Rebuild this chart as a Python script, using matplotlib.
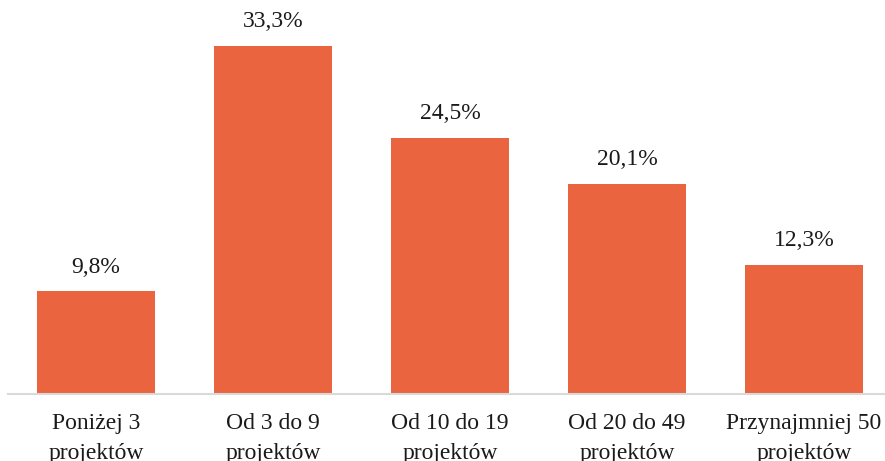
import matplotlib.pyplot as plt
import numpy as np

categories = ['Poniżej 3\nprojektów', 'Od 3 do 9\nprojektów', 'Od 10 do 19\nprojektów',
              'Od 20 do 49\nprojektów', 'Przynajmniej 50\nprojektów']
values = [9.8, 33.3, 24.5, 20.1, 12.3]
labels = ['9,8%', '33,3%', '24,5%', '20,1%', '12,3%']

plt.rcParams['font.family'] = ['Liberation Serif', 'DejaVu Serif']

fig = plt.figure(figsize=(8.85, 4.61), dpi=100)
ax = fig.add_axes([7.5 / 885, 67 / 461, 885 / 885, 387 / 461])

x = np.arange(len(values))
ax.bar(x, values, width=0.67, color='#E9643F')

for i, v in enumerate(values):
    ax.annotate(labels[i], (x[i], v), xytext=(0, 10), textcoords='offset points',
                ha='center', va='bottom', fontsize=17, color='#1a1a1a')

ax.set_xlim(-0.5, len(values) - 0.5)
ax.set_ylim(0, 37)
ax.set_xticks(x)
ax.set_xticklabels(categories, fontsize=17, color='#1a1a1a', linespacing=1.55)
ax.tick_params(axis='x', length=0, pad=14)
ax.set_yticks([])

for s in ['top', 'right', 'left']:
    ax.spines[s].set_visible(False)
ax.spines['bottom'].set_color('#D9D9D9')
ax.spines['bottom'].set_linewidth(1.5)

fig.savefig('out.png', dpi=100)
